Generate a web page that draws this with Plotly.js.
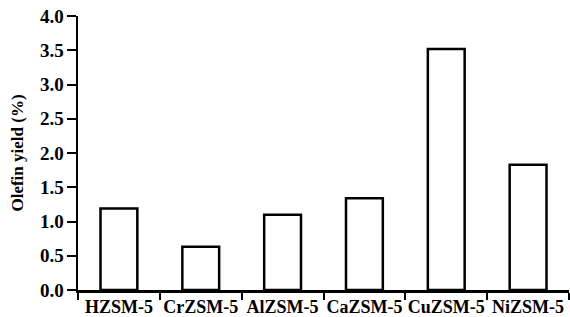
<!DOCTYPE html>
<html><head><meta charset="utf-8">
<script src="https://cdn.plot.ly/plotly-3.0.1.min.js"></script>
<style>html,body{margin:0;padding:0;background:#fff}#c{width:570px;height:317px}</style>
</head><body><div id="c"></div>
<script>
const categories = ["HZSM-5","CrZSM-5","AlZSM-5","CaZSM-5","CuZSM-5","NiZSM-5"];
const yieldValues = [1.19, 0.63, 1.10, 1.34, 3.52, 1.83];
const yTickVals = [0,0.5,1,1.5,2,2.5,3,3.5,4];
const yTickText = ["0.0","0.5","1.0","1.5","2.0","2.5","3.0","3.5","4.0"];
const fam = "Liberation Serif";
Plotly.newPlot("c", [{
  type:"bar", x:categories, y:yieldValues, width:0.45,
  marker:{color:"#fff", line:{color:"#000", width:2.5}}
}], {
  width:570, height:317,
  margin:{l:78, r:1, t:16, b:27},
  paper_bgcolor:"#fff", plot_bgcolor:"#fff",
  font:{family:fam, size:18, color:"#000"}, showlegend:false,
  xaxis:{range:[-0.5,5.5], showline:true, linecolor:"#000", linewidth:2.5,
    ticks:"outside", tickson:"boundaries", ticklen:7, tickwidth:2, tickcolor:"#000",
    showgrid:false, zeroline:false, automargin:false, tickangle:0, ticklabelstandoff:-1,
    tickfont:{family:fam, size:18, weight:"bold", color:"#000"}},
  yaxis:{range:[0,4], tickvals:yTickVals, ticktext:yTickText, showline:true, linecolor:"#000", linewidth:2.5,
    ticks:"outside", ticklen:9, tickwidth:2, tickcolor:"#000", showgrid:false, zeroline:false, automargin:false,
    ticklabelstandoff:-1,
    tickfont:{family:fam, size:19, weight:"bold", color:"#000"},
    title:{text:"Olefin yield (%)", font:{family:fam, size:17, weight:"bold", color:"#000"}, standoff:12}}
}, {staticPlot:true});
</script></body></html>
